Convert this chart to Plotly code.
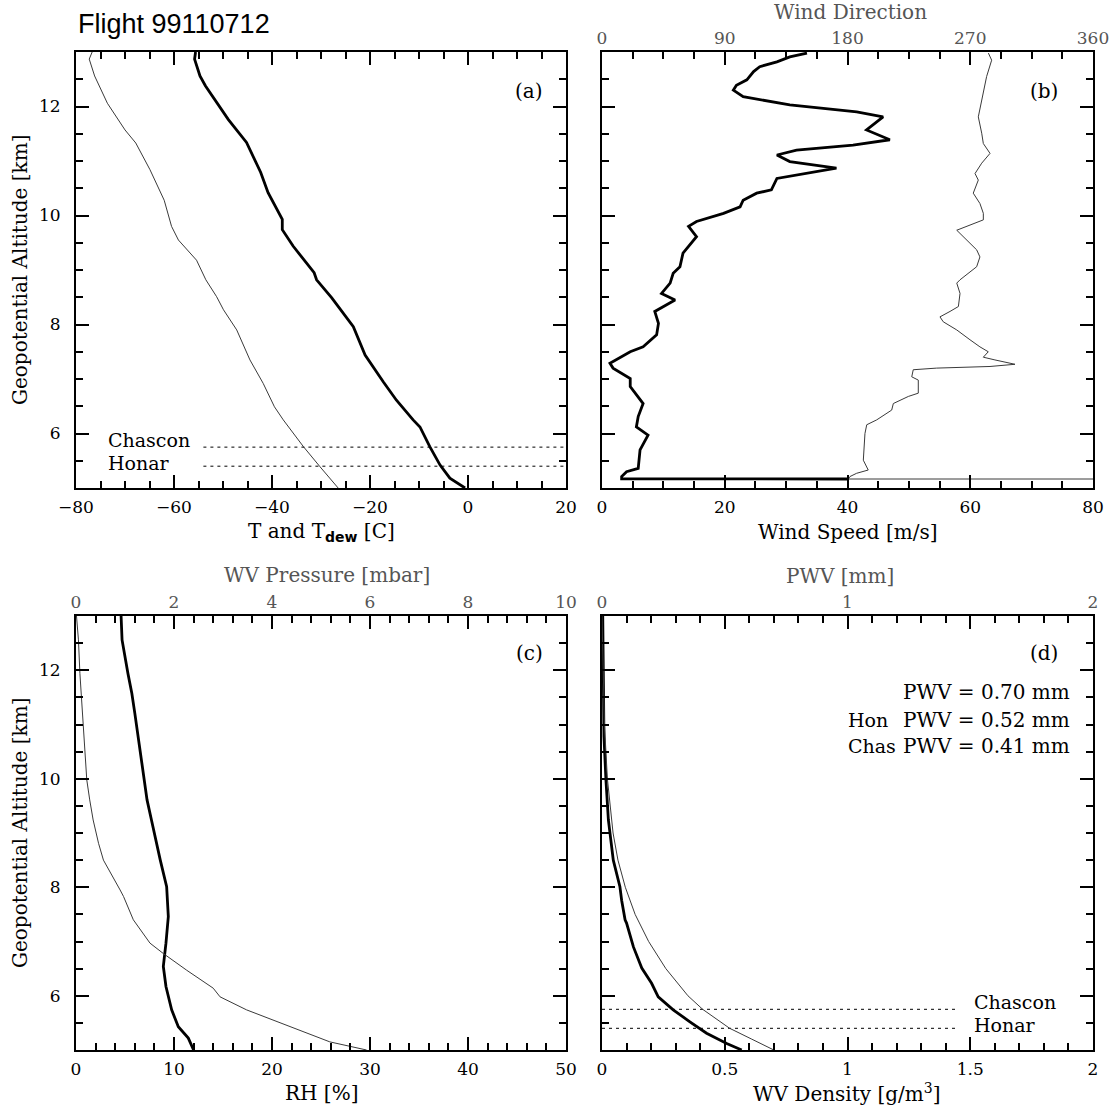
import plotly.graph_objects as go

W, H = 1109, 1108

# ---------------- Data ----------------
# Panel (a): temperature (thick) and dew point (thin) vs altitude [km]
alt_T = [13.0, 12.87, 12.56, 12.38, 11.76, 11.34, 10.79, 10.42, 9.93, 9.74, 9.44, 8.95,
         8.82, 8.49, 7.96, 7.44, 6.95, 6.61, 6.25, 6.12, 5.76, 5.42, 5.18, 5.0]
temp_T = [-55.6, -55.8, -54.7, -53.6, -48.9, -45.2, -42.3, -40.8, -37.9, -37.9, -35.7, -31.4,
          -30.9, -27.8, -23.4, -21.0, -17.3, -14.6, -11.2, -9.8, -7.8, -5.7, -3.7, -0.6]
alt_Td = [13.0, 12.87, 12.56, 12.06, 11.57, 11.33, 10.84, 10.28, 9.80, 9.55, 9.18, 8.82,
          8.51, 8.27, 7.90, 7.35, 6.92, 6.49, 6.25, 6.00, 5.76, 5.39, 5.0]
temp_Td = [-76.7, -77.3, -76.2, -73.6, -70.0, -67.8, -64.9, -62.0, -60.5, -59.1, -55.4, -53.5,
           -51.3, -49.9, -47.2, -44.5, -41.8, -39.5, -37.7, -35.7, -33.6, -30.2, -26.5]

# Panel (b): wind speed (thick, bottom axis) and wind direction (thin, top axis)
alt_ws = [12.98, 12.91, 12.82, 12.73, 12.64, 12.49, 12.39, 12.30, 12.18, 12.03, 11.90, 11.81,
          11.57, 11.39, 11.29, 11.20, 11.11, 10.99, 10.87, 10.77, 10.68, 10.47, 10.41, 10.28,
          10.16, 10.04, 9.89, 9.80, 9.61, 9.31, 9.06, 8.94, 8.76, 8.57, 8.45, 8.24, 8.02, 7.81,
          7.59, 7.50, 7.29, 7.20, 7.01, 6.86, 6.55, 6.31, 6.12, 5.97, 5.70, 5.36, 5.30, 5.21,
          5.17, 5.165]
wind_speed = [33.4, 30.6, 28.5, 25.7, 24.7, 23.6, 21.9, 21.4, 23.0, 30.6, 41.5, 45.8,
              43.1, 46.9, 40.9, 31.7, 28.5, 30.6, 38.2, 33.4, 28.5, 27.6, 25.2, 23.0,
              22.5, 19.8, 15.4, 14.1, 15.4, 13.2, 12.7, 11.6, 11.1, 9.7, 11.9, 8.6, 9.2, 8.9,
              6.7, 4.6, 1.3, 1.8, 4.6, 4.6, 6.7, 5.9, 5.6, 7.5, 6.2, 5.9, 4.0, 3.2,
              3.2, 40.0]
alt_wd = [12.98, 12.85, 12.55, 12.24, 11.81, 11.51, 11.32, 11.14, 10.96, 10.77, 10.65, 10.41,
          10.22, 10.04, 9.92, 9.73, 9.61, 9.37, 9.24, 9.06, 8.82, 8.76, 8.57, 8.33, 8.24,
          8.14, 8.05, 7.90, 7.72, 7.59, 7.50, 7.40, 7.35, 7.27, 7.23, 7.21, 7.20, 7.17,
          7.04, 6.98, 6.74, 6.68, 6.55, 6.43, 6.25, 6.16, 6.00, 5.51, 5.33, 5.27, 5.21,
          5.165, 5.165]
wind_dir = [283.3, 285.7, 282.0, 279.6, 275.9, 278.4, 279.6, 284.5, 278.4, 273.5, 275.9, 272.2,
            277.1, 279.6, 279.6, 260.1, 264.9, 274.7, 277.1, 274.7, 262.5, 260.1, 262.5, 261.3, 255.2,
            247.8, 250.2, 260.1, 269.8, 277.1, 283.2, 279.6, 288.1, 302.8, 284.5, 250.2, 245.4, 228.2,
            227.1, 231.9, 231.9, 224.6, 213.6, 212.4, 201.4, 194.1, 192.8, 191.6, 195.2, 186.7, 181.8,
            180.6, 400.0]

# Panel (c): relative humidity (thick, bottom) and water vapour pressure (thin, top)
alt_rh = [13.0, 12.56, 11.94, 11.57, 11.21, 10.71, 10.0, 9.61, 9.24, 8.90, 8.50, 8.01,
          7.46, 6.97, 6.54, 6.17, 5.74, 5.43, 5.22, 5.0]
rh = [4.6, 4.7, 5.3, 5.7, 6.0, 6.4, 7.0, 7.25, 7.7, 8.1, 8.6, 9.25,
      9.42, 9.18, 8.91, 9.18, 9.76, 10.44, 11.46, 12.0]
alt_wvp = [13.0, 12.56, 11.94, 11.33, 10.84, 10.47, 9.98, 9.61, 9.24, 8.81, 8.50, 7.95,
           7.83, 7.40, 6.97, 6.78, 6.47, 6.14, 5.98, 5.74, 5.55, 5.31, 5.15, 5.0]
wv_pressure = [0.01, 0.05, 0.08, 0.12, 0.15, 0.18, 0.22, 0.28, 0.35, 0.46, 0.56, 0.90,
               0.97, 1.17, 1.51, 1.78, 2.26, 2.80, 2.94, 3.48, 4.03, 4.71, 5.18, 5.93]

# Panel (d): water vapour density (thick, bottom) and cumulative PWV (thin, top)
alt_rho = [13.0, 12.0, 11.08, 10.78, 9.98, 9.24, 8.50, 8.01, 7.76, 7.40, 7.34, 6.90, 6.51,
           6.23, 5.98, 5.74, 5.52, 5.31, 5.12, 5.0]
wv_density = [0.003, 0.004, 0.005, 0.008, 0.016, 0.026, 0.046, 0.073, 0.080, 0.094, 0.100,
              0.128, 0.162, 0.202, 0.229, 0.290, 0.358, 0.426, 0.508, 0.569]
alt_pwv = [13.0, 12.0, 11.0, 10.0, 9.5, 9.0, 8.5, 8.0, 7.5, 7.0, 6.5, 6.0, 5.75, 5.4, 5.2, 5.0]
pwv = [0.0, 0.004, 0.01, 0.022, 0.032, 0.045, 0.065, 0.095, 0.135, 0.19, 0.26, 0.35, 0.41,
       0.52, 0.61, 0.70]

# Observatory sites (reference altitudes) and integrated PWV
site_names = ["Chascon", "Honar"]
site_alts = [5.75, 5.40]
site_short = ["Chas", "Hon"]
site_pwv = [0.41, 0.52]
pwv_total = 0.70

# ---------------- Layout helpers ----------------
def fx(px):
    return px / W

def fy(py):
    return 1 - py / H

XA = [fx(76), fx(566)]
XB = [fx(602), fx(1093)]
YT = [fy(488), fy(52)]
YB = [fy(1050), fy(616)]

SERIF = "DejaVu Serif"
FS = 17      # tick labels
FT = 20      # titles / annotations
GRAY = "#555555"

def bottom_axis(domain, anchor, rng, dtick, minor_dtick, tick0=0, labels=True):
    return dict(domain=domain, anchor=anchor, range=rng, tickmode="linear", tick0=tick0,
                dtick=dtick, showline=True, linecolor="black", linewidth=2, mirror="ticks",
                ticks="inside", ticklen=13, tickwidth=1.5, tickcolor="black",
                showgrid=False, zeroline=False, showticklabels=labels, automargin=False,
                ticklabelstandoff=3, ticklabeloverflow="allow",
                minor=dict(tickmode="linear", tick0=tick0, dtick=minor_dtick, ticks="inside",
                           ticklen=7, tickwidth=1.5, tickcolor="black", showgrid=False),
                tickfont=dict(family=SERIF, size=FS, color="black"))

def left_axis(domain, anchor, labels=True):
    return dict(domain=domain, anchor=anchor, range=[5, 13], tickmode="linear", tick0=0,
                dtick=2, showline=True, linecolor="black", linewidth=2, mirror="ticks",
                ticks="inside", ticklen=13, tickwidth=1.5, tickcolor="black",
                showgrid=False, zeroline=False, showticklabels=labels, automargin=False,
                ticklabelstandoff=10, ticklabeloverflow="allow",
                minor=dict(tickmode="linear", tick0=0, dtick=0.5, ticks="inside",
                           ticklen=7, tickwidth=1.5, tickcolor="black", showgrid=False),
                tickfont=dict(family=SERIF, size=FS, color="black"))

def top_axis(over, anchor, rng, dtick):
    return dict(overlaying=over, anchor=anchor, side="top", range=rng, tickmode="linear",
                tick0=0, dtick=dtick, showline=False, ticks="", showgrid=False,
                zeroline=False, ticklabelstandoff=4, automargin=False,
                ticklabeloverflow="allow",
                tickfont=dict(family=SERIF, size=FS, color=GRAY))

THICK = dict(color="black", width=2.8)
THIN = dict(color="#3a3a3a", width=1)
DASH = dict(color="black", width=1, dash="3px,4px")

fig = go.Figure()

# (a)
fig.add_trace(go.Scatter(x=temp_Td, y=alt_Td, mode="lines", line=THIN, xaxis="x", yaxis="y"))
fig.add_trace(go.Scatter(x=temp_T, y=alt_T, mode="lines", line=THICK, xaxis="x", yaxis="y"))
for a in site_alts:
    fig.add_trace(go.Scatter(x=[-54, 20], y=[a, a], mode="lines", line=DASH, xaxis="x", yaxis="y"))

# (b)
fig.add_trace(go.Scatter(x=wind_dir, y=alt_wd, mode="lines", line=THIN, xaxis="x5", yaxis="y2"))
fig.add_trace(go.Scatter(x=wind_speed, y=alt_ws, mode="lines", line=THICK, xaxis="x2", yaxis="y2"))

# (c)
fig.add_trace(go.Scatter(x=wv_pressure, y=alt_wvp, mode="lines", line=THIN, xaxis="x6", yaxis="y3"))
fig.add_trace(go.Scatter(x=rh, y=alt_rh, mode="lines", line=THICK, xaxis="x3", yaxis="y3"))

# (d)
fig.add_trace(go.Scatter(x=pwv, y=alt_pwv, mode="lines", line=THIN, xaxis="x7", yaxis="y4"))
fig.add_trace(go.Scatter(x=wv_density, y=alt_rho, mode="lines", line=THICK, xaxis="x4", yaxis="y4"))
for a in site_alts:
    fig.add_trace(go.Scatter(x=[0, 1.44], y=[a, a], mode="lines", line=DASH, xaxis="x4", yaxis="y4"))

fig.update_layout(
    width=W, height=H, margin=dict(l=0, r=0, t=0, b=0, autoexpand=False),
    paper_bgcolor="white", plot_bgcolor="white", showlegend=False,
    xaxis=bottom_axis(XA, "y", [-80, 20], 20, 5, tick0=-80),
    yaxis=left_axis(YT, "x"),
    xaxis2=bottom_axis(XB, "y2", [0, 80], 20, 5),
    yaxis2=left_axis(YT, "x2", labels=False),
    xaxis3=bottom_axis(XA, "y3", [0, 50], 10, 2),
    yaxis3=left_axis(YB, "x3"),
    xaxis4=bottom_axis(XB, "y4", [0, 2], 0.5, 0.1),
    yaxis4=left_axis(YB, "x4", labels=False),
    xaxis5=top_axis("x2", "y2", [0, 360], 90),
    xaxis6=top_axis("x3", "y3", [0, 10], 2),
    xaxis7=top_axis("x4", "y4", [0, 2], 1),
)

ann = []
def text(s, px, py, xanchor="center", size=FT, color="black", family=SERIF, angle=0):
    ann.append(dict(text=s, x=fx(px), y=fy(py), xref="paper", yref="paper",
                    xanchor=xanchor, yanchor="middle", showarrow=False, textangle=angle,
                    font=dict(family=family, size=size, color=color)))

text("Flight 99110712", 76, 24, xanchor="left", size=27, family="Liberation Sans")
# axis titles
text("Geopotential Altitude [km]", 20, 270, angle=-90)
text("Geopotential Altitude [km]", 20, 833, angle=-90)
text("T and T<sub><b><span style='font-family:DejaVu Sans'>dew</span></b></sub> [C]", 321, 532)
text("Wind Speed [m/s]", 848, 532)
text("Wind Direction", 850, 12, color=GRAY)
text("WV Pressure [mbar]", 327, 575, color=GRAY)
text("PWV [mm]", 840, 576, color=GRAY)
text("RH [%]", 321, 1093)
text("WV Density [g/m<sup>3</sup>]", 847, 1093)
# panel labels
text("(a)", 545, 91, xanchor="right")
text("(b)", 1060, 91, xanchor="right")
text("(c)", 545, 653, xanchor="right")
text("(d)", 1060, 653, xanchor="right")
# site labels
text(site_names[0], 106, 440, xanchor="left", size=19)
text(site_names[1], 106, 463, xanchor="left", size=19)
text(site_names[0], 972, 1002, xanchor="left", size=19)
text(site_names[1], 972, 1025, xanchor="left", size=19)
# PWV summary
text("PWV = %.2f mm" % pwv_total, 1072, 692, xanchor="right")
text("PWV = %.2f mm" % site_pwv[1], 1072, 720, xanchor="right")
text(site_short[1], 846, 720, xanchor="left", size=19)
text("PWV = %.2f mm" % site_pwv[0], 1072, 746, xanchor="right")
text(site_short[0], 846, 746, xanchor="left", size=19)

fig.update_layout(annotations=ann)
fig.write_html("out.html")
